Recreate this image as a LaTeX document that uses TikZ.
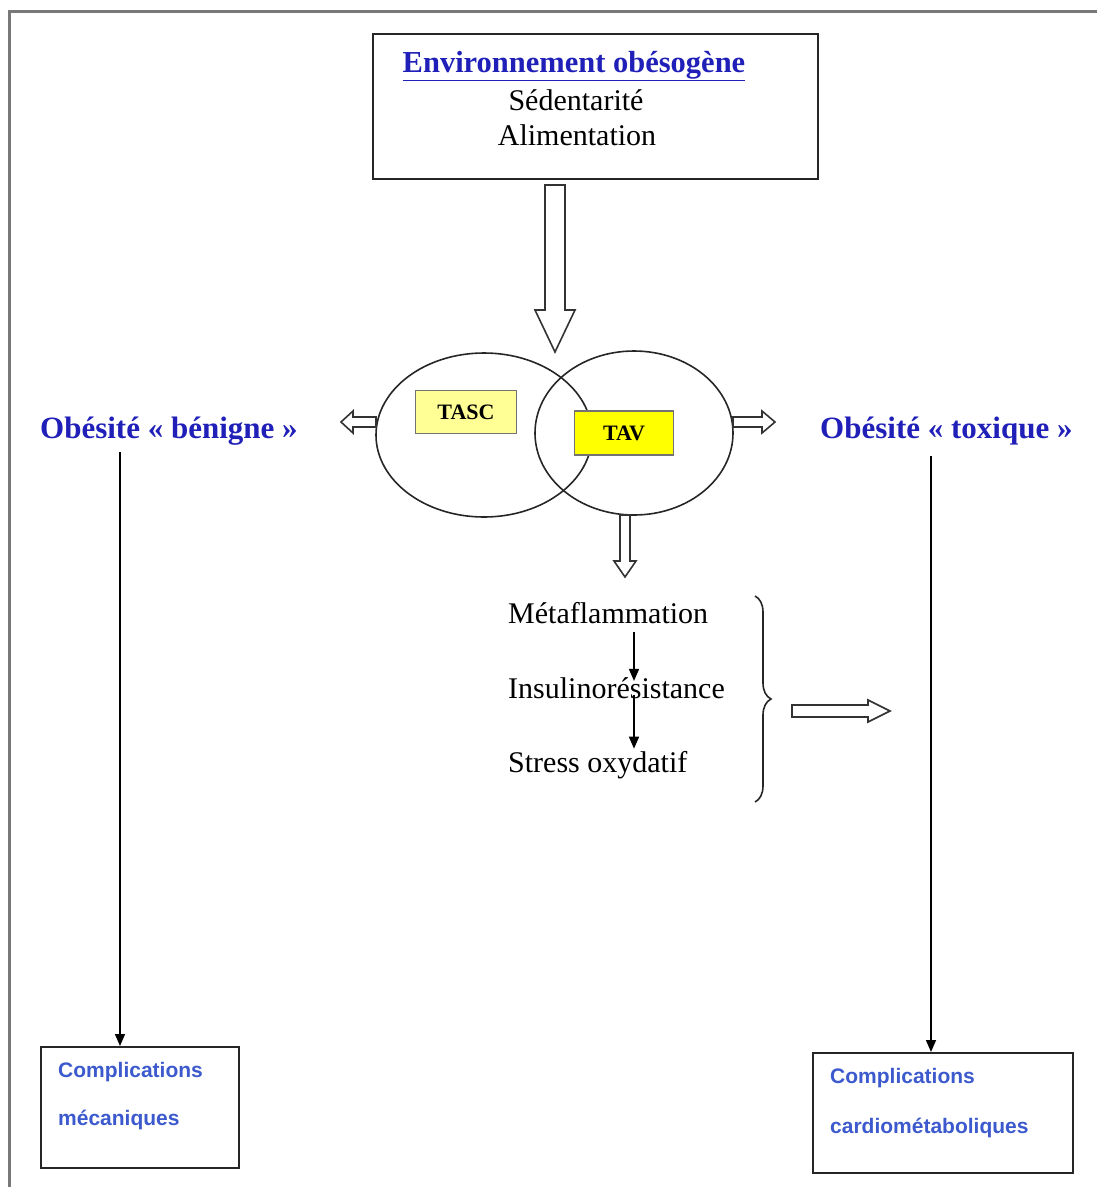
\documentclass[tikz,border=0pt]{standalone}
\usepackage{fontspec}
\setmainfont{Liberation Serif}
\newfontfamily\arialf{Liberation Sans}
\usetikzlibrary{arrows.meta,decorations.pathreplacing,calc}
\definecolor{titleblue}{RGB}{32,32,185}
\definecolor{compblue}{RGB}{60,90,205}
\definecolor{paleyellow}{RGB}{255,255,150}
\definecolor{brightyellow}{RGB}{255,255,0}
\definecolor{framegray}{RGB}{120,120,120}
\tikzset{
  txt/.style={inner sep=0pt, anchor=base west},
  ctxt/.style={inner sep=0pt, anchor=base},
  boxline/.style={draw=black!85, line width=2pt},
  hollow/.style={draw=black!80, line width=1.6pt, fill=white, line join=miter},
  thinarrow/.style={draw=black, line width=1.5pt, -{Triangle[width=10pt,length=12pt]}},
  tag/.style={draw=black!55, line width=1.2pt, inner sep=0pt},
  big/.style={font=\fontsize{30}{35}\selectfont},
  ell/.style={draw=black!85, line width=1.6pt},
}
\begin{document}
\begin{tikzpicture}[x=1pt,y=-1pt]
\useasboundingbox (0,0) rectangle (1097,1187);
% outer frame (top and left)
\draw[framegray, line width=3pt] (9,1187) -- (9,11) -- (1097,11);

% top box
\node[boxline, minimum width=445pt, minimum height=145pt, anchor=north west, inner sep=0pt] (env) at (372,33) {};
\node[ctxt, text=titleblue, font=\fontsize{30.5}{35}\selectfont\bfseries] (envt) at (574,72) {\underline{Environnement obésogène}};
\node[ctxt, big] (sed) at (576,110) {Sédentarité};
\node[ctxt, big] (ali) at (577,145) {Alimentation};

% big hollow arrow down
\draw[hollow] (545,185) -- (565,185) -- (565,310) -- (575,310) -- (555,352) -- (535,310) -- (545,310) -- cycle;

% ellipses
\draw[ell] (484,435) ellipse [x radius=108, y radius=82];
\draw[ell] (634,433) ellipse [x radius=99, y radius=82];
\coordinate (elL) at (376,422);
\coordinate (elR) at (733,422);
\coordinate (elB) at (625,515);

% tags
\node[tag, fill=paleyellow, minimum width=101pt, minimum height=43pt, font=\fontsize{22}{24}\selectfont\bfseries] (tasc) at (466,412) {TASC};
\node[tag, fill=brightyellow, minimum width=99pt, minimum height=44pt, font=\fontsize{22}{24}\selectfont\bfseries] (tav) at (624,433) {TAV};

% small hollow arrows
\draw[hollow] (elL) ++(0,-5) -- (353,417) -- (353,411) -- (341,422) -- (353,433) -- (353,427) -- (376,427) -- cycle;
\draw[hollow] (elR) ++(0,-5) -- (762,417) -- (762,411) -- (775,422) -- (762,433) -- (762,427) -- (733,427) -- cycle;
\draw[hollow] (elB) ++(-5,0) -- (620,561) -- (614,561) -- (625,577) -- (636,561) -- (630,561) -- (630,515) -- cycle;

% side labels
\node[txt, text=titleblue, font=\fontsize{31}{35}\selectfont\bfseries] (ben) at (40,438) {Obésité «~bénigne~»};
\node[txt, text=titleblue, font=\fontsize{31}{35}\selectfont\bfseries] (tox) at (820,438) {Obésité «~toxique~»};

% middle chain
\node[txt, big] (meta) at (508,623) {Métaflammation};
\node[txt, big] (insu) at (508,698) {Insulinorésistance};
\node[txt, big] (stre) at (508,772) {Stress oxydatif};
\draw[thinarrow] ($(meta.south west)+(126,8)$) -- ($(insu.north west)+(126,4)$);
\draw[thinarrow] ($(insu.south west)+(126,-4)$) -- ($(stre.north west)+(126,-2)$);

% brace
\coordinate (brT) at (755,596);
\coordinate (brB) at (755,802);
\draw[black!85, line width=1.6pt, decorate, decoration={brace, amplitude=16pt}] (brT) -- (brB);

% hollow arrow from brace
\draw[hollow] (792,705) -- (868,705) -- (868,700) -- (890,711) -- (868,722) -- (868,717) -- (792,717) -- cycle;

% bottom boxes
\node[boxline, minimum width=198pt, minimum height=121pt, anchor=north west, inner sep=0pt] (cm) at (40,1046) {};
\node[txt, text=compblue, font=\fontsize{21}{24}\selectfont\arialf\bfseries] (cm1) at (58,1077) {Complications};
\node[txt, text=compblue, font=\fontsize{21}{24}\selectfont\arialf\bfseries] (cm2) at (58,1125) {mécaniques};

\node[boxline, minimum width=260pt, minimum height=120pt, anchor=north west, inner sep=0pt] (cc) at (812,1052) {};
\node[txt, text=compblue, font=\fontsize{21}{24}\selectfont\arialf\bfseries] (cc1) at (830,1083) {Complications};
\node[txt, text=compblue, font=\fontsize{21}{24}\selectfont\arialf\bfseries] (cc2) at (830,1133) {cardiométaboliques};

% vertical connectors
\coordinate (lstart) at (120,452);
\coordinate (rstart) at (931,456);
\draw[thinarrow] (lstart) -- (lstart |- cm.north);
\draw[thinarrow] (rstart) -- (rstart |- cc.north);
\end{tikzpicture}
\end{document}
